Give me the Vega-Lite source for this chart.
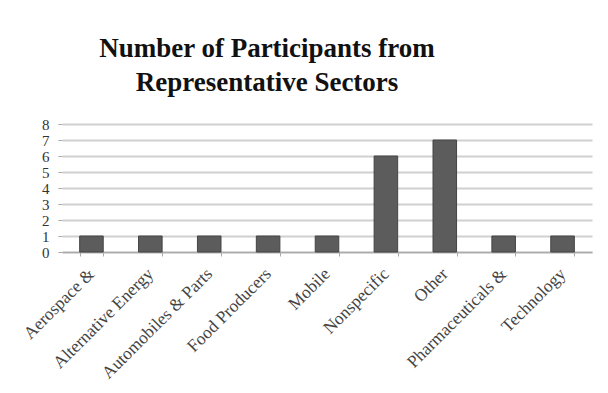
{
  "$schema": "https://vega.github.io/schema/vega-lite/v6.json",
  "width": 530,
  "height": 128,
  "autosize": {"type": "none"},
  "padding": {"left": 62, "top": 124, "right": 16, "bottom": 141},
  "background": "white",
  "title": {
    "text": ["Number of Participants from", "Representative Sectors"],
    "font": "Liberation Serif",
    "fontSize": 27,
    "fontWeight": "bold",
    "color": "#111111",
    "anchor": "middle",
    "frame": "group",
    "dx": -60,
    "lineHeight": 34,
    "offset": 20
  },
  "data": {
    "values": [
      {"sector": "Aerospace &", "count": 1},
      {"sector": "Alternative Energy", "count": 1},
      {"sector": "Automobiles & Parts", "count": 1},
      {"sector": "Food Producers", "count": 1},
      {"sector": "Mobile", "count": 1},
      {"sector": "Nonspecific", "count": 6},
      {"sector": "Other", "count": 7},
      {"sector": "Pharmaceuticals &", "count": 1},
      {"sector": "Technology", "count": 1}
    ]
  },
  "mark": {"type": "bar", "color": "#5c5c5c", "stroke": "#444444", "strokeWidth": 1},
  "encoding": {
    "x": {
      "field": "sector",
      "type": "nominal",
      "sort": null,
      "scale": {"paddingInner": 0.6, "paddingOuter": 0.3},
      "axis": {
        "title": null,
        "labelAngle": -45,
        "labelAlign": "right",
        "labelBaseline": "middle",
        "labelFont": "Liberation Serif",
        "labelFontSize": 17.5,
        "labelColor": "#444444",
        "labelPadding": 15,
        "labelOverlap": false,
        "tickBand": "extent",
        "tickColor": "#aaaaaa",
        "tickSize": 4,
        "domainColor": "#aaaaaa",
        "domainWidth": 1.5,
        "grid": false
      }
    },
    "y": {
      "field": "count",
      "type": "quantitative",
      "scale": {"domain": [0, 8]},
      "axis": {
        "title": null,
        "values": [0, 1, 2, 3, 4, 5, 6, 7, 8],
        "labelFont": "Liberation Serif",
        "labelFontSize": 15,
        "labelColor": "#333333",
        "labelPadding": 9,
        "labelOverlap": false,
        "tickColor": "#aaaaaa",
        "tickSize": 4,
        "domain": false,
        "grid": true,
        "gridColor": "#d0d0d0",
        "gridWidth": 2
      }
    }
  },
  "config": {"view": {"stroke": null}}
}
